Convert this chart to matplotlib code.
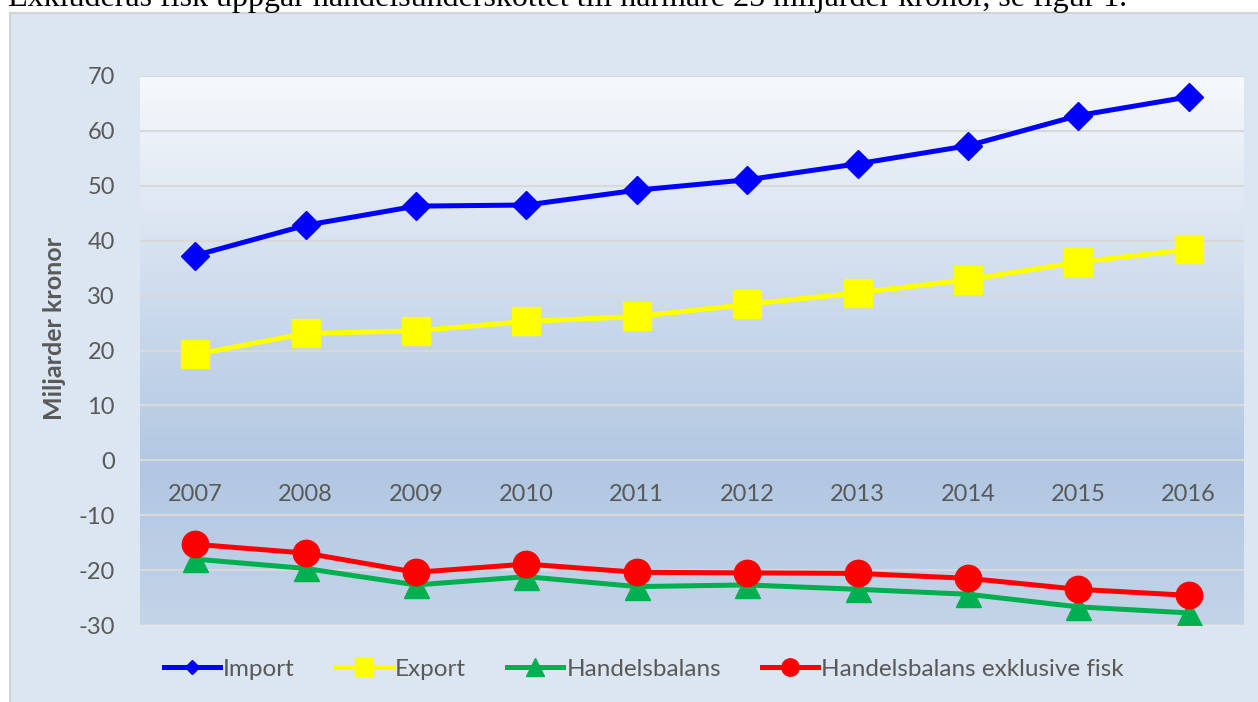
import numpy as np
import matplotlib.pyplot as plt
from matplotlib.colors import LinearSegmentedColormap
from matplotlib.lines import Line2D
from matplotlib.patches import Rectangle

years = ['2007', '2008', '2009', '2010', '2011', '2012', '2013', '2014', '2015', '2016']
importValues = [37.3, 42.8, 46.3, 46.5, 49.2, 51.1, 54.0, 57.3, 62.8, 66.2]
exportValues = [19.3, 23.1, 23.6, 25.3, 26.2, 28.4, 30.5, 32.9, 36.1, 38.4]
balans = [-18.0, -19.7, -22.7, -21.2, -23.0, -22.7, -23.5, -24.4, -26.7, -27.8]
balansExFisk = [-15.3, -16.9, -20.4, -18.9, -20.4, -20.5, -20.6, -21.5, -23.5, -24.6]
yTicks = [-30, -20, -10, 0, 10, 20, 30, 40, 50, 60, 70]

textColor = '#595959'
plt.rcParams['font.family'] = ['Lato', 'DejaVu Sans']

fig = plt.figure(figsize=(12.58, 7.02), dpi=100)
W, H = 1258, 702

# cut-off text line from the document above the chart
fig.text(8/W, 1-6/H, 'Exkluderas fisk uppgår handelsunderskottet till närmare 25 miljarder kronor, se figur 1.',
         family='Liberation Serif', fontsize=23, color='black', va='baseline', ha='left')

# chart box (cropped at right and bottom)
box = Rectangle((10/W, -0.1), 1.2, 1-13/H+0.1, transform=fig.transFigure,
                facecolor='#dce6f2', edgecolor='#d4d4d4', linewidth=1.5, zorder=-5)
fig.add_artist(box)

ax = fig.add_axes([140/W, 1-625/H, (1244-140)/W, (625-76)/H])
x = np.arange(len(years))

# plot area gradient
cmap = LinearSegmentedColormap.from_list('bg', [(0, '#c4d4e8'), (0.28, '#b1c7e2'), (0.55, '#c9d8eb'), (1, '#f6f9fc')])
grad = np.linspace(0, 1, 256).reshape(-1, 1)
ax.imshow(grad, extent=[-0.5, 9.5, -30, 70], aspect='auto', cmap=cmap, origin='lower', zorder=0)

for t in yTicks:
    ax.axhline(t, color='#d9d9d9', linewidth=1.5, zorder=1)

ax.plot(x, importValues, color='#0000ff', linewidth=3.6, marker='D', markersize=14.5, zorder=3)
ax.plot(x, exportValues, color='#ffff00', linewidth=3.6, marker='s', markersize=20, zorder=3)
ax.plot(x, balans, color='#00b050', linewidth=3.6, marker='^', markersize=18, zorder=3)
ax.plot(x, balansExFisk, color='#ff0000', linewidth=3.6, marker='o', markersize=19, zorder=4)

ax.set_xlim(-0.5, 9.5)
ax.set_ylim(-30, 70)
ax.set_yticks(yTicks)
ax.set_yticklabels([str(t) for t in yTicks])
ax.tick_params(axis='y', length=0, pad=18, labelsize=17, labelcolor=textColor)
ax.set_xticks([])
for i, yr in enumerate(years):
    ax.annotate(yr, (i, 0), xytext=(0, -34), textcoords='offset pixels', ha='center', va='center',
                fontsize=17, color=textColor, zorder=5)
for s in ax.spines.values():
    s.set_visible(False)

fig.text(55/W, 1-328/H, 'Miljarder kronor', rotation=90, ha='center', va='center',
         fontsize=18, fontweight='bold', color=textColor)

handles = [
    Line2D([], [], color='#0000ff', linewidth=3.6, marker='D', markersize=6.8),
    Line2D([], [], color='#ffff00', linewidth=3.6, marker='s', markersize=13),
    Line2D([], [], color='#00b050', linewidth=3.6, marker='^', markersize=13.5),
    Line2D([], [], color='#ff0000', linewidth=3.6, marker='o', markersize=12.5),
]
labels = ['Import', 'Export', 'Handelsbalans', 'Handelsbalans exklusive fisk']
leg = fig.legend(handles, labels, loc='center', bbox_to_anchor=(644/W, 1-669/H), ncol=4, frameon=False,
                 fontsize=17.5, handlelength=2.3, handletextpad=0.13, columnspacing=1.7)
for t in leg.get_texts():
    t.set_color(textColor)

fig.savefig('out.png', dpi=100)
